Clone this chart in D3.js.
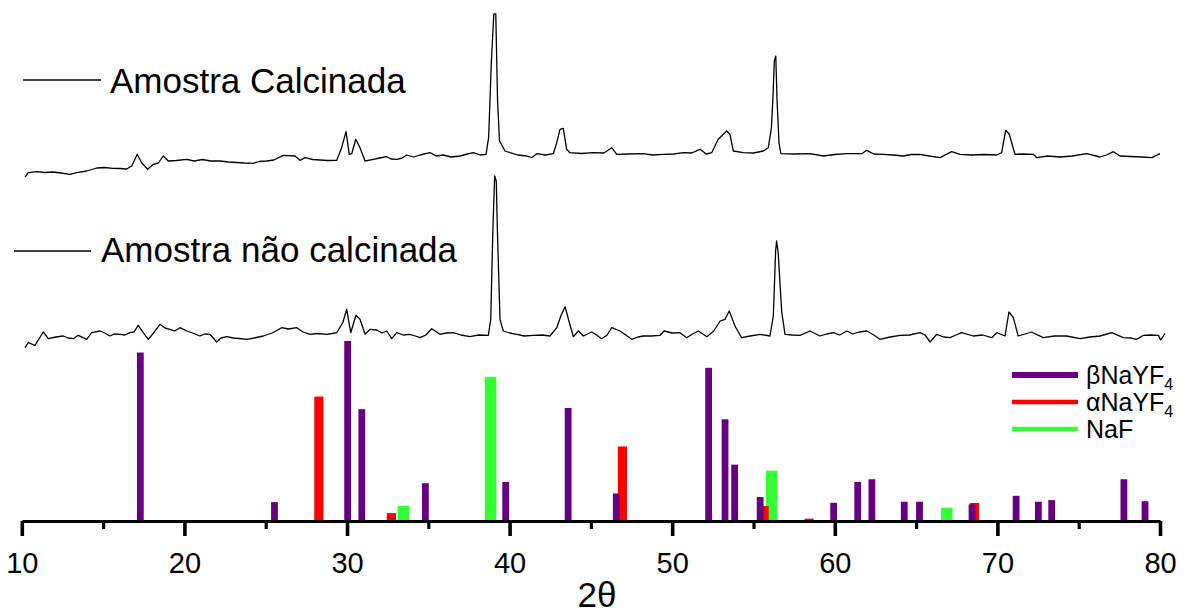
<!DOCTYPE html>
<html>
<head>
<meta charset="utf-8">
<script src="https://cdn.jsdelivr.net/npm/d3@7"></script>
<style>
  html, body { margin: 0; padding: 0; background: #fff; }
  svg { display: block; }
  text { font-family: "Liberation Sans", Arial, "DejaVu Sans", sans-serif; fill: #000; }
</style>
</head>
<body>
<svg id="chart" width="1200" height="616"></svg>
<script>
// ---------- DATA ----------
// Diffractogram: Amostra Calcinada  [2θ, intensity (a.u.)]
const calcinada = [
[10.20,344],[10.40,348.3],[10.92,349.3],[11.40,348.5],[11.92,349],[12.40,348],[12.96,346.7],[13.38,348.3],[13.99,350],[14.61,353],[15.10,353.5],[15.61,352.7],[16.05,352.5],[16.45,352],[16.76,355],[17.10,366.7],[17.37,358.3],[17.74,351.7],[18.09,356.7],[18.40,358],[18.70,365],[19.01,360],[19.50,360.5],[20.14,361.7],[20.60,360],[21.10,361.5],[21.60,360],[22.19,360],[22.70,359],[23.20,358.5],[23.70,358],[24.22,357.7],[24.60,359.5],[25.06,360],[25.50,361],[26.08,365.7],[26.80,365],[27.11,360.7],[27.42,363.3],[27.90,361.5],[28.34,361],[28.80,360.5],[29.37,360.7],[29.67,373.3],[29.94,389.3],[30.14,366.7],[30.29,367.3],[30.54,381.7],[30.80,373.3],[31.11,360],[31.62,361.7],[32.00,363],[32.44,364.3],[32.70,362],[33.06,361.7],[33.40,363],[33.67,366],[34.10,364],[34.49,366],[35.10,368.3],[35.50,365],[35.92,366],[36.40,364],[36.95,365],[37.40,367],[37.77,368.3],[38.20,366],[38.55,366.7],[38.71,383.3],[38.88,460],[39.03,507],[39.15,507],[39.26,420],[39.38,380],[39.72,370],[40.03,368.3],[40.50,366],[41.05,365],[41.36,363.3],[41.67,367.3],[42.20,366],[42.69,367.3],[42.90,378.3],[43.10,391.7],[43.30,392.7],[43.51,371.7],[43.71,368.3],[44.40,367.5],[45.15,368.3],[45.80,368],[46.28,373.3],[46.59,366.7],[47.30,367],[48.22,367.3],[48.80,366],[49.45,366.7],[50.10,367],[50.68,368.3],[51.20,368],[51.71,371.7],[52.10,367],[52.43,368.3],[52.83,381.7],[53.04,385],[53.35,390],[53.55,386.7],[53.76,370],[54.37,368.3],[55.00,368],[55.60,370],[55.91,373.3],[56.10,393],[56.20,425],[56.28,460],[56.37,465],[56.45,420],[56.57,378],[56.68,367.3],[57.50,367],[58.48,367.3],[59.29,365],[60.00,366.5],[60.73,367.3],[61.66,367.3],[61.96,370.7],[62.40,367],[62.99,366.7],[63.60,366],[64.21,365],[64.70,366.5],[65.24,366.7],[65.80,365],[66.47,363.3],[67.19,369.3],[67.70,366.7],[68.40,366],[69.20,366.5],[69.96,366],[70.26,368.3],[70.51,390.7],[70.73,386.7],[71.08,366.7],[71.60,367],[72.21,366.7],[72.42,363.3],[73.10,365],[73.85,364],[74.60,365],[75.49,367.3],[76.31,364],[76.70,366],[77.13,369.3],[77.54,365],[78.20,364.5],[78.90,364],[79.49,363.3],[80.00,367.3]
];
// Diffractogram: Amostra não calcinada  [2θ, intensity (a.u.)]
const naoCalcinada = [
[10.20,173.3],[10.40,178.3],[10.81,175.7],[11.32,189],[11.63,182.3],[12.10,184],[12.55,185],[12.85,183],[13.17,182.3],[13.47,185.7],[13.99,181.7],[14.30,188.3],[14.81,190],[15.10,188],[15.42,185],[15.70,187],[16.04,186.7],[16.35,186],[16.65,188.3],[16.90,189],[17.16,195.7],[17.47,188.3],[17.78,181.7],[18.10,188],[18.50,196.7],[18.80,193],[19.11,191.7],[19.40,190],[19.73,193.3],[20.14,190],[20.50,188],[20.96,185],[21.25,187],[21.57,186.7],[21.99,179],[22.25,183],[22.60,184.3],[23.00,183],[23.40,182.5],[23.83,181.7],[24.30,183],[24.85,185],[25.40,188],[25.98,193.3],[26.40,192],[26.91,193.3],[27.30,189],[27.73,186.7],[28.20,187.5],[28.75,186.7],[29.10,187.5],[29.37,188.3],[29.74,198.3],[29.98,211.7],[30.23,188.3],[30.55,205.7],[30.80,201.7],[31.11,186.7],[31.42,191.7],[31.83,191],[32.15,188],[32.44,190],[32.75,182.3],[33.06,188.3],[33.45,186],[33.87,186.7],[34.20,185],[34.49,183.3],[34.85,186],[35.21,192.3],[35.72,186.7],[36.10,188],[36.54,188.3],[37.00,186],[37.56,184.3],[38.10,186],[38.69,185.7],[38.84,201.7],[38.97,290],[39.08,345],[39.18,340],[39.25,290],[39.41,201.7],[39.61,190],[40.00,188],[40.44,186.7],[40.90,185],[41.46,185.7],[42.00,186],[42.48,185],[42.90,193.3],[43.15,205],[43.41,214.3],[43.65,200],[43.92,184.3],[44.23,190],[44.54,185],[45.05,189],[45.35,186],[45.66,182.3],[46.00,186],[46.28,193.3],[46.79,190],[47.15,186],[47.51,181.7],[47.90,184],[48.22,185],[48.70,185],[49.25,185.7],[49.50,190],[50.00,188],[50.48,188.3],[50.89,183.3],[51.25,187],[51.61,190],[52.13,184.3],[52.55,190],[52.95,200],[53.25,201.7],[53.51,210],[53.86,195],[54.27,183.3],[54.80,185],[55.40,186.7],[56.01,185],[56.22,205],[56.36,270],[56.42,280],[56.52,268],[56.62,240],[56.74,208.3],[56.94,186.7],[57.40,186],[57.86,185.7],[58.48,190],[59.09,185],[59.50,187],[59.91,188.3],[60.30,186],[60.74,190],[61.10,187],[61.50,189],[61.97,190],[62.40,186],[62.78,181.7],[63.40,184],[64.01,185.7],[64.60,186],[65.24,188.3],[65.55,186],[65.86,179],[66.27,186.7],[66.70,184],[67.09,183.3],[67.45,186],[67.81,188.3],[68.52,185],[69.10,186],[69.65,183.3],[69.96,188.3],[70.47,185],[70.71,209],[70.98,203.3],[71.28,185],[71.70,187],[72.10,189],[72.82,183.3],[73.50,185],[74.26,185],[75.08,182.3],[75.70,184],[76.31,185],[77.03,188.3],[77.74,183.3],[78.20,183],[78.57,181.7],[78.98,185.7],[79.45,186],[79.90,185.7],[80.04,181],[80.31,187.7]
];

// Reference patterns: positions (2θ) and relative intensities (%)
const betaPos = [17.29, 25.54, 30.04, 30.91, 34.82, 39.76, 43.60, 46.56, 52.24, 53.25, 53.84, 55.41, 59.93, 61.41, 62.28, 64.27, 65.21, 68.44, 71.15, 72.52, 73.34, 77.78, 79.08];
const betaInt = [93.6, 10.5, 100, 62.1, 21.0, 21.7, 62.8, 15.3, 85.1, 56.5, 31.3, 13.3, 10.1, 21.7, 23.2, 10.7, 10.7, 9.2, 14.0, 10.7, 11.6, 23.2, 11.0];
const alphaPos = [28.27, 32.73, 46.94, 55.65, 58.42, 68.59];
const alphaInt = [69.1, 4.4, 41.4, 8.3, 1.3, 10.0];
const nafPos = [33.47, 38.83, 56.12, 66.89];
const nafInt = [8.3, 80.1, 28.0, 7.4];

const majorTicks = [10, 20, 30, 40, 50, 60, 70, 80];
const minorTicks = [15, 25, 35, 45, 55, 65, 75];

const sampleLabels = ["Amostra Calcinada", "Amostra não calcinada"];
const refNames = ["βNaYF", "αNaYF", "NaF"];
const refSubs = ["4", "4", ""];
const refColors = ["#650082", "#ff0000", "#33ff33"];
const xTitle = "2θ";

// ---------- DRAWING ----------
const svg = d3.select("#chart");
svg.append("rect").attr("width", 1200).attr("height", 616).attr("fill", "#fff");

const axisY = 521;
const x = d3.scaleLinear().domain([10, 80]).range([21.8, 1160]);
const yTrace = d3.scaleLinear().domain([0, 521]).range([axisY, 0]);
const yBar = d3.scaleLinear().domain([0, 100]).range([axisY, 341]);

// Reference bars (green, red, then purple on top)
const refSets = [
  { pos: nafPos, val: nafInt, color: refColors[2], w: 11.5 },
  { pos: alphaPos, val: alphaInt, color: refColors[1], w: 9.2 },
  { pos: betaPos, val: betaInt, color: refColors[0], w: 6.8 }
];
refSets.forEach(s => {
  svg.append("g").selectAll("rect")
    .data(s.pos.map((p, i) => [p, s.val[i]]))
    .join("rect")
    .attr("x", d => x(d[0]) - s.w / 2)
    .attr("y", d => yBar(d[1]))
    .attr("width", s.w)
    .attr("height", d => yBar(0) - yBar(d[1]))
    .attr("fill", s.color);
});

// Traces
const line = d3.line().x(d => x(d[0])).y(d => yTrace(d[1]));
[calcinada, naoCalcinada].forEach(data => {
  svg.append("path").datum(data)
    .attr("d", line)
    .attr("fill", "none")
    .attr("stroke", "#000")
    .attr("stroke-width", 1.3)
    .attr("stroke-linejoin", "round");
});

// Axis
const gMinor = svg.append("g").attr("transform", `translate(0,${axisY})`)
  .call(d3.axisBottom(x).tickValues(minorTicks).tickSize(8).tickSizeOuter(0).tickFormat(""));
gMinor.select(".domain").remove();
gMinor.selectAll("line").attr("stroke", "#000").attr("stroke-width", 3.2);

const gMajor = svg.append("g").attr("transform", `translate(0,${axisY})`)
  .call(d3.axisBottom(x).tickValues(majorTicks).tickSize(15).tickSizeOuter(0).tickFormat(d3.format("d")));
gMajor.select(".domain").attr("stroke", "#000").attr("stroke-width", 3.2);
gMajor.selectAll(".tick line").attr("stroke", "#000").attr("stroke-width", 3.6);
gMajor.selectAll(".tick text")
  .attr("y", 52).attr("dy", null)
  .attr("font-size", 29)
  .style("font-family", '"Liberation Sans", Arial, sans-serif')
  .attr("fill", "#000");

svg.append("text").attr("x", 597).attr("y", 607)
  .attr("text-anchor", "middle").attr("font-size", 35).text(xTitle);

// Sample labels (legend-like)
const sampleLeg = [
  { x1: 23, x2: 101, y: 80, tx: 110, ty: 93 },
  { x1: 14, x2: 91, y: 251, tx: 101, ty: 262 }
];
sampleLeg.forEach((s, i) => {
  svg.append("line").attr("x1", s.x1).attr("x2", s.x2).attr("y1", s.y).attr("y2", s.y)
    .attr("stroke", "#000").attr("stroke-width", 1.3);
  svg.append("text").attr("x", s.tx).attr("y", s.ty).attr("font-size", 35).text(sampleLabels[i]);
});

// Reference legend
const legY = [375, 402, 429];
const legW = [6, 4.5, 4.5];
refNames.forEach((n, i) => {
  svg.append("line").attr("x1", 1012).attr("x2", 1078).attr("y1", legY[i]).attr("y2", legY[i])
    .attr("stroke", refColors[i]).attr("stroke-width", legW[i]);
  const t = svg.append("text").attr("x", 1086).attr("y", legY[i] + 9).attr("font-size", 25);
  t.append("tspan").text(n);
  if (refSubs[i]) t.append("tspan").attr("font-size", 16).attr("dy", 6).text(refSubs[i]);
});
</script>
</body>
</html>
